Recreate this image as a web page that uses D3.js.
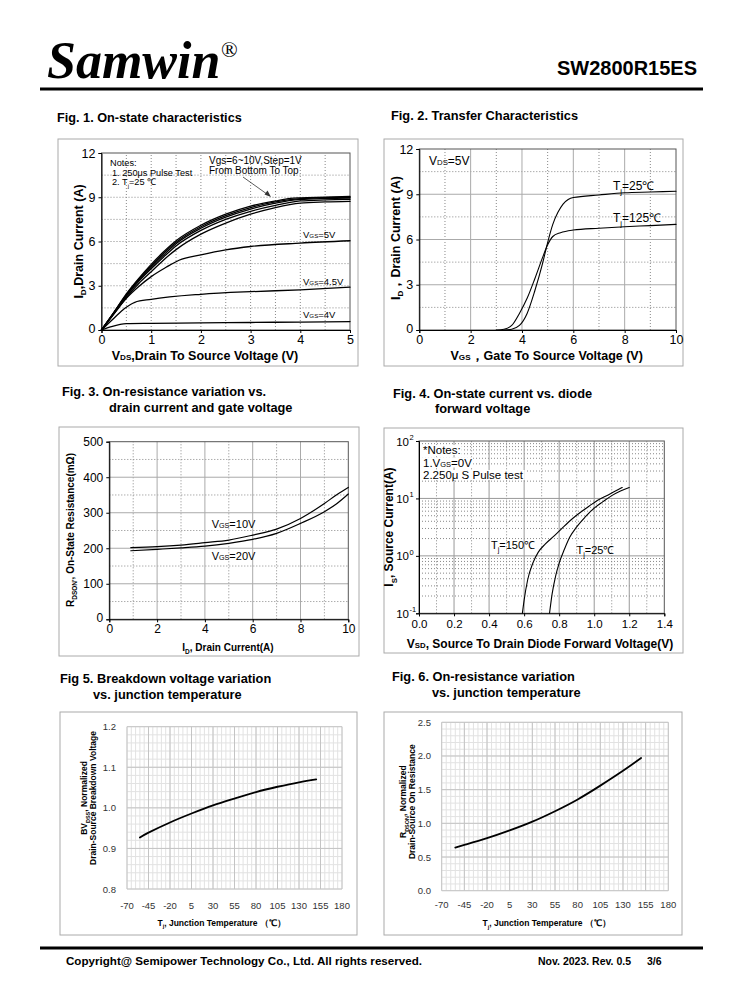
<!DOCTYPE html>
<html><head><meta charset="utf-8">
<script src="https://cdn.jsdelivr.net/npm/d3@7"></script>
<style>body{margin:0;background:#fff}</style>
</head><body>
<svg id="page" width="738" height="1000" xmlns="http://www.w3.org/2000/svg"></svg>
<script>
// ---------------- DATA ----------------
// Fig.1 On-state characteristics (Vds, Id)
const fig1XTicks = [0,1,2,3,4,5];
const fig1YTicks = [0,3,6,9,12];
const fig1Vgs10 = [[0,0],[0.25,1.2],[0.5,2.45],[0.75,3.5],[1,4.45],[1.25,5.3],[1.5,6.05],[2,7.1],[2.5,7.85],[3,8.4],[3.5,8.75],[3.8,8.92],[4,8.96],[4.5,9.0],[5,9.05]];
const fig1Vgs9  = [[0,0],[0.25,1.2],[0.5,2.4],[0.75,3.45],[1,4.35],[1.25,5.2],[1.5,5.95],[2,7.0],[2.5,7.75],[3,8.3],[3.5,8.68],[4,8.9],[4.5,8.97],[5,9.0]];
const fig1Vgs8  = [[0,0],[0.25,1.18],[0.5,2.35],[0.75,3.38],[1,4.25],[1.25,5.08],[1.5,5.85],[2,6.9],[2.5,7.65],[3,8.2],[3.5,8.6],[4,8.85],[4.5,8.92],[5,8.95]];
const fig1Vgs7  = [[0,0],[0.25,1.15],[0.5,2.3],[0.75,3.3],[1,4.15],[1.25,4.95],[1.5,5.7],[2,6.75],[2.5,7.5],[3,8.05],[3.5,8.45],[4,8.75],[4.5,8.82],[5,8.85]];
const fig1Vgs6  = [[0,0],[0.25,1.1],[0.5,2.2],[0.75,3.15],[1,3.95],[1.25,4.75],[1.5,5.45],[2,6.5],[2.5,7.25],[3,7.85],[3.5,8.3],[4,8.6],[4.5,8.68],[5,8.72]];
const fig1Vgs5  = [[0,0],[0.25,1.1],[0.5,2.15],[0.75,2.95],[1,3.62],[1.3,4.25],[1.56,4.73],[2,5.09],[2.5,5.43],[3,5.66],[4,5.89],[5,6.05]];
const fig1Vgs45 = [[0,0],[0.25,0.8],[0.47,1.47],[0.67,1.88],[1,2.08],[2,2.42],[3,2.6],[4,2.72],[5,2.9]];
const fig1Vgs4  = [[0,0],[0.2,0.23],[0.5,0.43],[1,0.45],[2,0.48],[3,0.51],[4,0.54],[5,0.57]];

// Fig.2 Transfer characteristics (Vgs, Id)
const fig2XTicks = [0,2,4,6,8,10];
const fig2YTicks = [0,3,6,9,12];
const fig2Tj25  = [[3.3,0],[3.6,0.05],[3.9,0.3],[4.2,1.1],[4.5,2.6],[4.8,4.4],[5.0,5.8],[5.2,7.0],[5.4,7.8],[5.6,8.35],[5.8,8.65],[6,8.78],[7,8.95],[8,9.1],[9,9.15],[10,9.2]];
const fig2Tj125 = [[3.0,0],[3.3,0.05],[3.6,0.3],[3.9,1.1],[4.2,2.1],[4.5,3.4],[4.8,4.8],[5.0,5.65],[5.2,6.2],[5.5,6.45],[6,6.63],[7,6.75],[8,6.85],[9,6.92],[10,7.0]];

// Fig.3 On-resistance vs drain current (Id, mOhm)
const fig3XTicks = [0,2,4,6,8,10];
const fig3YTicks = [0,100,200,300,400,500];
const fig3Vgs10 = [[0.9,201.7],[2,204.5],[3,209],[4,215.8],[5,223],[6,237],[7,254],[8,284],[9,326],[9.5,350],[10,371.5]];
const fig3Vgs20 = [[0.9,193],[2,197],[3,201],[4,206],[5,214],[6,225],[7,242],[8,270],[9,303],[9.5,324.6],[10,352.7]];

// Fig.4 Diode forward (Vsd, Is)
const fig4XTicks = [0.0,0.2,0.4,0.6,0.8,1.0,1.2,1.4];
const fig4YTicks = [0.1,1,10,100];
const fig4YTickExp = ["-1","0","1","2"];
const fig4Tj150 = [[0.59,0.1],[0.6,0.17],[0.62,0.38],[0.65,0.75],[0.68,1.15],[0.72,1.6],[0.77,2.2],[0.82,3.1],[0.87,4.3],[0.92,5.7],[0.97,7.3],[1.02,9.3],[1.08,11.5],[1.16,15.5]];
const fig4Tj25  = [[0.745,0.1],[0.76,0.22],[0.78,0.45],[0.8,0.75],[0.83,1.3],[0.86,2.1],[0.9,3.2],[0.95,4.8],[1.0,6.8],[1.05,8.8],[1.1,11.2],[1.15,13.5],[1.2,15.5]];

// Fig.5 Breakdown voltage vs Tj
const fig5XTicks = [-70,-45,-20,5,30,55,80,105,130,155,180];
const fig5YTicks = [0.8,0.9,1.0,1.1,1.2];
const fig5Curve = [[-55,0.927],[-45,0.939],[-20,0.964],[5,0.986],[30,1.006],[55,1.023],[80,1.039],[105,1.052],[130,1.063],[150,1.07]];

// Fig.6 On-resistance vs Tj
const fig6XTicks = [-70,-45,-20,5,30,55,80,105,130,155,180];
const fig6YTicks = [0.0,0.5,1.0,1.5,2.0,2.5];
const fig6Curve = [[-55,0.64],[-45,0.68],[-20,0.78],[5,0.895],[30,1.025],[55,1.18],[80,1.355],[105,1.56],[130,1.78],[150,1.97]];

// ---------------- HELPERS ----------------
const SANS = "'Liberation Sans', Arial, Helvetica, sans-serif";
const svg = d3.select('#page');

function rich(sel, parts, size) {
  let shift = 0;
  parts.forEach(p => {
    let t, k;
    if (Array.isArray(p)) { t = p[0]; k = p[1]; } else { t = p; k = null; }
    const target = k === 'sub' ? size * 0.3 : (k === 'sup' ? -size * 0.45 : 0);
    const ts = sel.append('tspan').text(t).attr('dy', target - shift);
    if (k) ts.attr('font-size', size * 0.65);
    shift = target;
  });
  return sel;
}
function text(g, x, y, parts, size, opts = {}) {
  const t = g.append('text').attr('x', x).attr('y', y)
    .attr('font-family', opts.family || SANS)
    .attr('font-size', size)
    .attr('font-weight', opts.weight || 'normal')
    .attr('fill', opts.fill || '#000')
    .attr('text-anchor', opts.anchor || 'start');
  if (opts.rotate) t.attr('transform', `rotate(-90 ${x} ${y})`);
  if (opts.style) t.attr('font-style', opts.style);
  return rich(t, parts, size);
}
function frame(x, y, w, h) {
  svg.append('rect').attr('x', x).attr('y', y).attr('width', w).attr('height', h)
    .attr('fill', 'none').attr('stroke', '#aaa').attr('stroke-width', 1);
}
function hgrid(g, xs, ys, vals, stroke, dash, width) {
  g.selectAll(null).data(vals).enter().append('line')
    .attr('x1', xs.range()[0]).attr('x2', xs.range()[1])
    .attr('y1', d => ys(d)).attr('y2', d => ys(d))
    .attr('stroke', stroke).attr('stroke-width', width || 1)
    .attr('stroke-dasharray', dash || null);
}
function vgrid(g, xs, ys, vals, stroke, dash, width) {
  g.selectAll(null).data(vals).enter().append('line')
    .attr('y1', ys.range()[0]).attr('y2', ys.range()[1])
    .attr('x1', d => xs(d)).attr('x2', d => xs(d))
    .attr('stroke', stroke).attr('stroke-width', width || 1)
    .attr('stroke-dasharray', dash || null);
}
function styleAxis(a, size, color) {
  a.selectAll('text').attr('font-family', SANS).attr('font-size', size).attr('fill', color || '#000');
  a.selectAll('line').attr('stroke', '#000');
  a.select('.domain').attr('stroke', '#000');
}
function curve(g, xs, ys, data, width, type) {
  g.append('path').datum(data)
    .attr('d', d3.line().x(d => xs(d[0])).y(d => ys(d[1])).curve(type || d3.curveMonotoneX))
    .attr('fill', 'none').attr('stroke', '#000').attr('stroke-width', width)
    .attr('stroke-linejoin', 'round').attr('stroke-linecap', 'round');
}
function border(g, xs, ys) {
  const [x0, x1] = xs.range(), [y0, y1] = ys.range();
  g.append('rect').attr('x', x0).attr('y', Math.min(y0, y1)).attr('width', x1 - x0)
    .attr('height', Math.abs(y0 - y1)).attr('fill', 'none').attr('stroke', '#555').attr('stroke-width', 1);
}

// ---------------- HEADER / FOOTER ----------------
text(svg, 47, 78, ['Samwin'], 52, { family: "'Liberation Serif','Times New Roman',serif", weight: 'bold', style: 'italic' });
text(svg, 221, 57, ['®'], 22, { family: "'Liberation Serif','Times New Roman',serif" });
text(svg, 697, 75, ['SW2800R15ES'], 20, { weight: 'bold', anchor: 'end' });
svg.append('rect').attr('x', 40).attr('y', 87.5).attr('width', 663).attr('height', 3).attr('fill', '#000');
svg.append('rect').attr('x', 40).attr('y', 946.5).attr('width', 663).attr('height', 3).attr('fill', '#000');
text(svg, 66, 964.5, ['Copyright@ Semipower Technology Co., Ltd. All rights reserved.'], 11.6, { weight: 'bold' });
text(svg, 538, 964.5, ['Nov. 2023. Rev. 0.5'], 10.5, { weight: 'bold' });
text(svg, 647, 964.5, ['3/6'], 10.5, { weight: 'bold' });

// ---------------- TITLES ----------------
text(svg, 57, 121.5, ['Fig. 1. On-state characteristics'], 12.7, { weight: 'bold' });
text(svg, 391, 119.5, ['Fig. 2. Transfer Characteristics'], 12.8, { weight: 'bold' });
text(svg, 62, 396, ['Fig. 3. On-resistance variation vs.'], 12.8, { weight: 'bold' });
text(svg, 109, 412, ['drain current and gate voltage'], 12.8, { weight: 'bold' });
text(svg, 393, 398, ['Fig. 4. On-state current vs. diode'], 12.8, { weight: 'bold' });
text(svg, 435, 412.5, ['forward voltage'], 12.8, { weight: 'bold' });
text(svg, 60, 683, ['Fig 5. Breakdown voltage variation'], 12.8, { weight: 'bold' });
text(svg, 93, 699, ['vs. junction temperature'], 12.8, { weight: 'bold' });
text(svg, 392, 681, ['Fig. 6. On-resistance variation'], 12.8, { weight: 'bold' });
text(svg, 432, 696.5, ['vs. junction temperature'], 12.8, { weight: 'bold' });

// ---------------- FIG 1 ----------------
(function () {
  frame(58, 139, 300, 227);
  const g = svg.append('g');
  const x = d3.scaleLinear([0, 5], [101.5, 350]);
  const y = d3.scaleLinear([0, 12], [330, 153]);
  vgrid(g, x, y, d3.range(0.5, 5, 0.5), '#888', '1,2');
  hgrid(g, x, y, d3.range(1.5, 12, 1.5), '#888', '1,2');
  border(g, x, y);
  [fig1Vgs4, fig1Vgs45, fig1Vgs5, fig1Vgs6, fig1Vgs7, fig1Vgs8, fig1Vgs9, fig1Vgs10].forEach(c => curve(g, x, y, c, 1.3));
  const ax = g.append('g').attr('transform', `translate(0,${y(0)})`).call(d3.axisBottom(x).tickValues(fig1XTicks).tickSize(3).tickPadding(2).tickFormat(d3.format('d')));
  styleAxis(ax, 12.5);
  const ay = g.append('g').attr('transform', `translate(${x(0)},0)`).call(d3.axisLeft(y).tickValues(fig1YTicks).tickSize(3).tickPadding(3).tickFormat(d3.format('d')));
  styleAxis(ay, 12.5);
  ay.selectAll('.tick text').filter(d => d === 0).attr('dy', '0.2em');
  text(g, 110, 166, ['Notes:'], 9.2);
  text(g, 112, 175.5, ['1. 250μs  Pulse Test'], 9.2);
  text(g, 112, 185, ['2. T', ['j', 'sub'], '=25 ℃'], 9.2);
  text(g, 209, 163.5, ['Vgs=6~10V,Step=1V'], 10);
  text(g, 209, 174, ['From Bottom To Top'], 10);
  g.append('line').attr('x1', 243).attr('y1', 177).attr('x2', 269).attr('y2', 195.5).attr('stroke', '#333').attr('stroke-width', 0.8);
  g.append('path').attr('d', 'M271,197 L264.5,194.5 L267.5,190.5 Z').attr('fill', '#333');
  text(g, 303, 237.5, ['V', ['GS', 'small'], '=5V'], 9.5);
  text(g, 303, 284.5, ['V', ['GS', 'small'], '=4.5V'], 9.5);
  text(g, 303, 317.5, ['V', ['GS', 'small'], '=4V'], 9.5);
  text(g, 205, 359.5, ['V', ['DS', 'small'], ',Drain To Source Voltage (V)'], 12.5, { weight: 'bold', anchor: 'middle' });
  text(g, 82.5, 241.5, ['I', ['D', 'sub'], ',Drain Current (A)'], 12.5, { weight: 'bold', anchor: 'middle', rotate: true });
})();

// ---------------- FIG 2 ----------------
(function () {
  frame(384, 139, 299, 227);
  const g = svg.append('g');
  const x = d3.scaleLinear([0, 10], [419.3, 676]);
  const y = d3.scaleLinear([0, 12], [330, 149]);
  vgrid(g, x, y, [1, 3, 5, 7, 9], '#888', '1,2');
  hgrid(g, x, y, [1.5, 4.5, 7.5, 10.5], '#888', '1,2');
  vgrid(g, x, y, [2, 4, 6, 8], '#aaa');
  hgrid(g, x, y, [3, 6, 9], '#aaa');
  border(g, x, y);
  curve(g, x, y, fig2Tj25, 1.1);
  curve(g, x, y, fig2Tj125, 1.1);
  const ax = g.append('g').attr('transform', `translate(0,${y(0)})`).call(d3.axisBottom(x).tickValues(fig2XTicks).tickSize(3).tickPadding(2));
  styleAxis(ax, 12.5);
  const ay = g.append('g').attr('transform', `translate(${x(0)},0)`).call(d3.axisLeft(y).tickValues(fig2YTicks).tickSize(3).tickPadding(3));
  styleAxis(ay, 12.5);
  ay.selectAll('.tick text').filter(d => d === 0).attr('dy', '0.2em');
  text(g, 429, 165, ['V', ['DS', 'small'], '=5V'], 12);
  text(g, 613, 190, ['T', ['j', 'sub'], '=25℃'], 12);
  text(g, 613, 222, ['T', ['j', 'sub'], '=125℃'], 12);
  text(g, 546.7, 359.5, ['V', ['GS', 'small'], '，Gate To Source Voltage (V)'], 12.5, { weight: 'bold', anchor: 'middle' });
  text(g, 399.5, 238, ['I', ['D', 'sub'], '，Drain Current (A)'], 12.5, { weight: 'bold', anchor: 'middle', rotate: true });
})();

// ---------------- FIG 3 ----------------
(function () {
  frame(59, 427, 300, 229);
  const g = svg.append('g');
  const x = d3.scaleLinear([0, 10], [109.3, 348.3]);
  const y = d3.scaleLinear([0, 500], [619.3, 441.7]);
  vgrid(g, x, y, [1, 3, 5, 7, 9], '#888', '1,2');
  hgrid(g, x, y, [50, 150, 250, 350, 450], '#888', '1,2');
  vgrid(g, x, y, [2, 4, 6, 8], '#aaa');
  hgrid(g, x, y, [100, 200, 300, 400], '#aaa');
  border(g, x, y);
  curve(g, x, y, fig3Vgs10, 1.2);
  curve(g, x, y, fig3Vgs20, 1.2);
  const ax = g.append('g').attr('transform', `translate(0,${y(0)})`).call(d3.axisBottom(x).tickValues(fig3XTicks).tickSize(3).tickPadding(2));
  styleAxis(ax, 12);
  const ay = g.append('g').attr('transform', `translate(${x(0)},0)`).call(d3.axisLeft(y).tickValues(fig3YTicks).tickSize(3).tickPadding(3));
  styleAxis(ay, 12);
  ay.selectAll('.tick text').filter(d => d === 0).attr('dy', '0.2em');
  text(g, 211.7, 528, ['V', ['GS', 'small'], '=10V'], 11);
  text(g, 211.7, 560, ['V', ['GS', 'small'], '=20V'], 11);
  text(g, 228, 650.5, ['I', ['D', 'sub'], ', Drain Current(A)'], 10, { weight: 'bold', anchor: 'middle' });
  text(g, 73.5, 530, ['R', ['DSON\'', 'sub'], ', On-State Resistance(mΩ)'], 10, { weight: 'bold', anchor: 'middle', rotate: true });
})();

// ---------------- FIG 4 ----------------
(function () {
  frame(384, 428, 299, 225);
  const g = svg.append('g');
  const x = d3.scaleLinear([0, 1.4], [419, 664.3]);
  const y = d3.scaleLog([0.1, 100], [613.3, 441]);
  const minors = [];
  [0.1, 1, 10].forEach(dec => { for (let k = 2; k <= 9; k++) minors.push(dec * k); });
  vgrid(g, x, y, [0.1, 0.3, 0.5, 0.7, 0.9, 1.1, 1.3], '#888', '1,2');
  hgrid(g, x, y, minors, '#888', '1,2');
  vgrid(g, x, y, [0.2, 0.4, 0.6, 0.8, 1.0, 1.2], '#999');
  hgrid(g, x, y, [1, 10], '#999');
  border(g, x, y);
  curve(g, x, y, fig4Tj150, 1.1);
  curve(g, x, y, fig4Tj25, 1.1);
  const ax = g.append('g').attr('transform', `translate(0,${y(0.1)})`).call(d3.axisBottom(x).tickValues(fig4XTicks).tickSize(3).tickPadding(4).tickFormat(d3.format('.1f')));
  styleAxis(ax, 11.5);
  const ay = g.append('g').attr('transform', `translate(${x(0)},0)`).call(d3.axisLeft(y).tickValues(fig4YTicks).tickSize(3).tickPadding(2).tickFormat(() => ''));
  styleAxis(ay, 11.5);
  fig4YTicks.forEach((v, i) => {
    text(g, 409, y(v) + 4.5, ['10'], 11.5, { anchor: 'end' });
    text(g, 409.5, y(v) - 1, [fig4YTickExp[i]], 7.5);
  });
  const notes = [['*Notes:'], ['1.V', ['GS', 'small'], '=0V'], ['2.250μ S Pulse test']];
  [454, 466.5, 479].forEach((by, i) => {
    const t = text(g, 423, by, notes[i], 11.5);
    const bb = t.node().getBBox();
    g.insert('rect', () => t.node()).attr('x', bb.x - 1).attr('y', bb.y + 1).attr('width', bb.width + 2).attr('height', bb.height - 2).attr('fill', '#fff');
  });
  text(g, 491, 549, ['T', ['j', 'sub'], '=150℃'], 11);
  text(g, 576.5, 554, ['T', ['j', 'sub'], '=25℃'], 11);
  text(g, 540, 647.5, ['V', ['SD', 'small'], ', Source To Drain Diode Forward Voltage(V)'], 12, { weight: 'bold', anchor: 'middle' });
  text(g, 393, 527, ['I', ['S', 'sub'], ', Source Current(A)'], 12, { weight: 'bold', anchor: 'middle', rotate: true });
})();

// ---------------- FIG 5 ----------------
(function () {
  frame(60, 712, 297, 223);
  const g = svg.append('g');
  const x = d3.scaleLinear([-70, 180], [127, 342]);
  const y = d3.scaleLinear([0.8, 1.2], [889, 726.7]);
  vgrid(g, x, y, d3.range(-70, 181, 5), '#e2e2e2');
  hgrid(g, x, y, d3.range(0, 21).map(i => 0.8 + i * 0.02), '#e2e2e2');
  vgrid(g, x, y, fig5XTicks, '#c4c4c4');
  hgrid(g, x, y, fig5YTicks, '#c4c4c4');
  curve(g, x, y, fig5Curve, 1.8, d3.curveNatural);
  fig5XTicks.forEach(v => text(g, x(v), 908.5, [String(v)], 9.5, { anchor: 'middle', fill: '#333' }));
  fig5YTicks.forEach(v => text(g, 116, y(v) + 3.5, [v.toFixed(1)], 9.5, { anchor: 'end', fill: '#333' }));
  text(g, 221.7, 925.5, ['T', ['j', 'sub'], ', Junction Temperature （℃）'], 8.5, { weight: 'bold', anchor: 'middle' });
  text(g, 87, 798, ['BV', ['DSS', 'sub'], ', Normalized'], 8.5, { weight: 'bold', anchor: 'middle', rotate: true });
  text(g, 96, 798, ['Drain-Source Breakdown Voltage'], 8.5, { weight: 'bold', anchor: 'middle', rotate: true });
})();

// ---------------- FIG 6 ----------------
(function () {
  frame(384, 712, 298, 223);
  const g = svg.append('g');
  const x = d3.scaleLinear([-70, 180], [441.7, 668.3]);
  const y = d3.scaleLinear([0, 2.5], [890.7, 722.3]);
  vgrid(g, x, y, d3.range(-70, 181, 5), '#e2e2e2');
  hgrid(g, x, y, d3.range(0, 26).map(i => i * 0.1), '#e2e2e2');
  vgrid(g, x, y, fig6XTicks, '#c4c4c4');
  hgrid(g, x, y, fig6YTicks, '#c4c4c4');
  curve(g, x, y, fig6Curve, 1.8, d3.curveNatural);
  fig6XTicks.forEach(v => text(g, x(v), 907.5, [String(v)], 9.5, { anchor: 'middle', fill: '#333' }));
  fig6YTicks.forEach(v => text(g, 431, y(v) + 3.5, [v.toFixed(1)], 9.5, { anchor: 'end', fill: '#333' }));
  text(g, 546.7, 926, ['T', ['j', 'sub'], ', Junction Temperature （℃）'], 8.5, { weight: 'bold', anchor: 'middle' });
  text(g, 406, 801.7, ['R', ['DSON', 'sub'], ', Normalized'], 8.5, { weight: 'bold', anchor: 'middle', rotate: true });
  text(g, 415.5, 801.7, ['Drain-Source On Resistance'], 8.5, { weight: 'bold', anchor: 'middle', rotate: true });
})();
</script>
</body></html>
